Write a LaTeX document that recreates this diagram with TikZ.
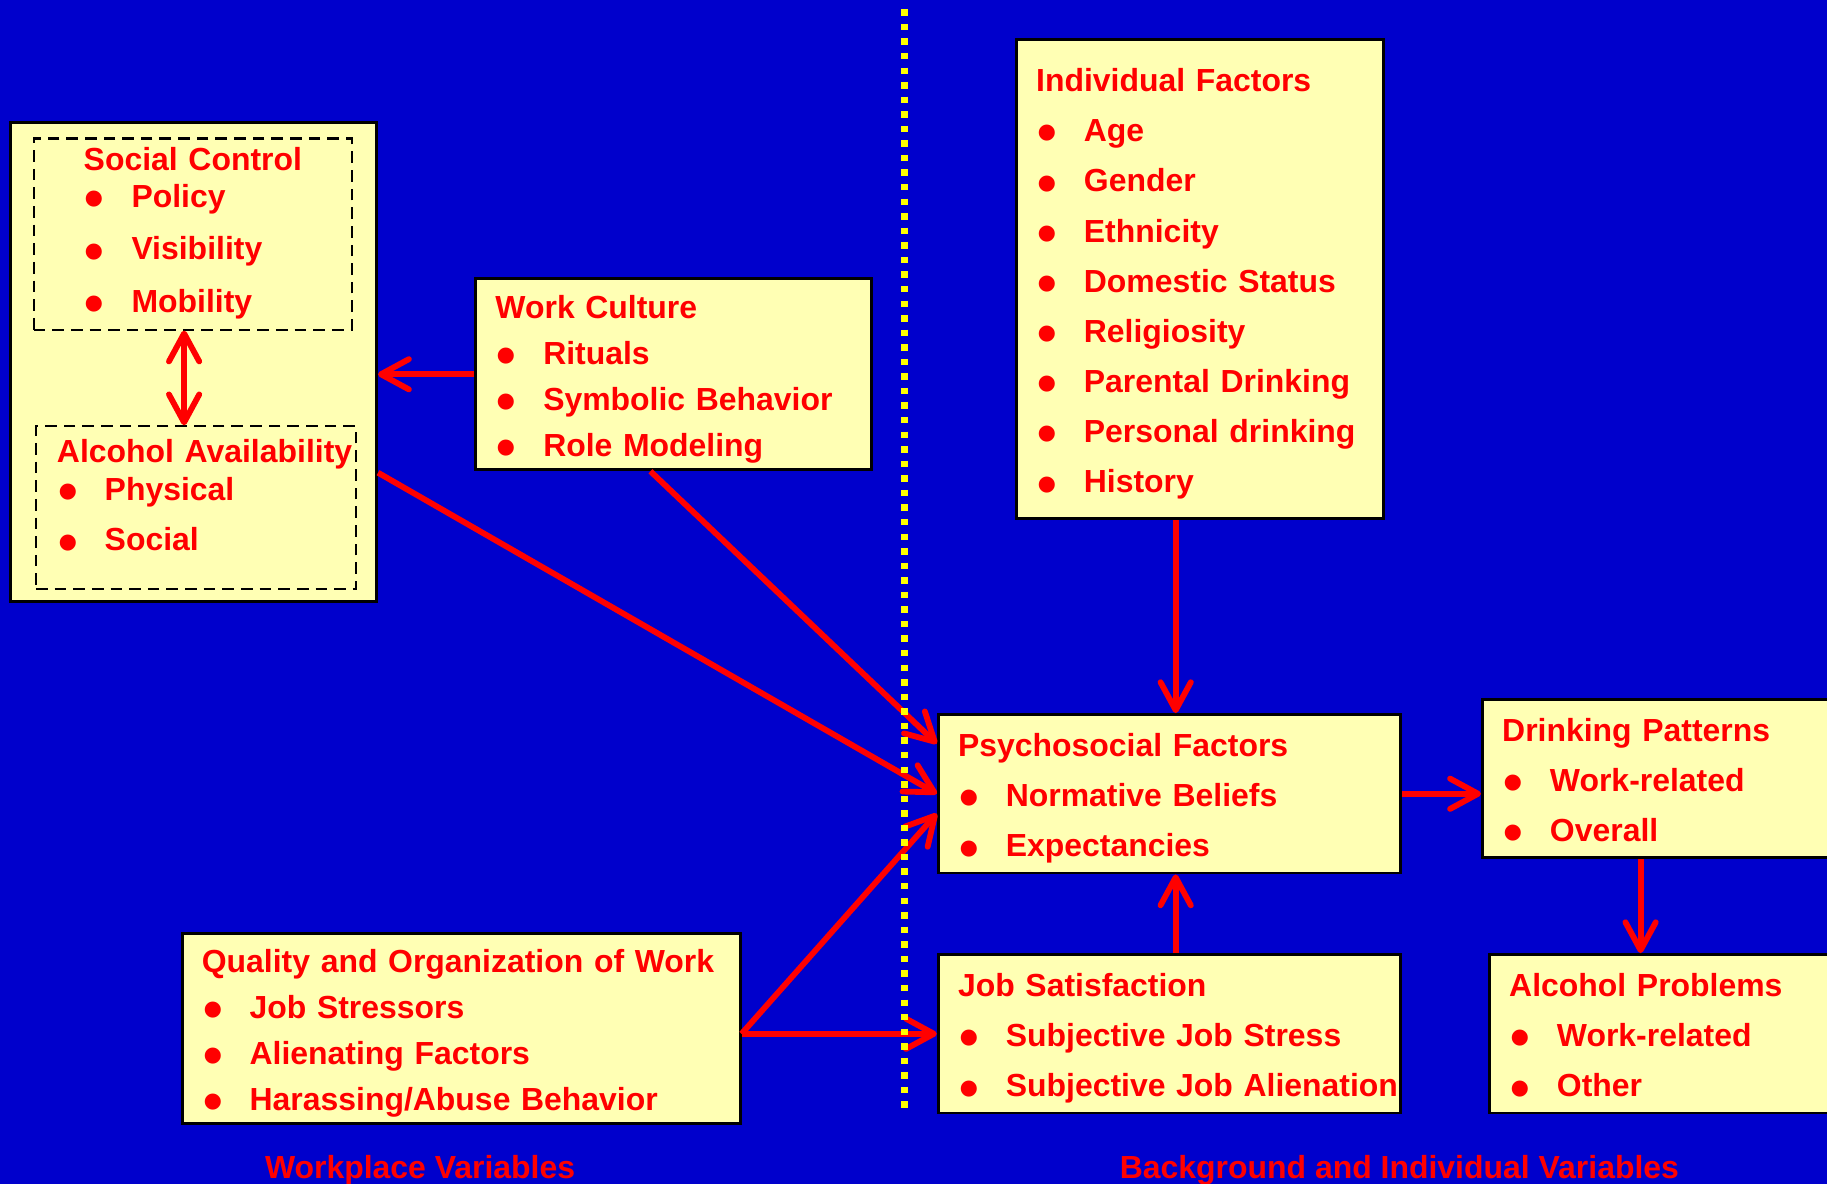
\documentclass[tikz,border=0pt]{standalone}
\usepackage{fontspec}
\setmainfont{Liberation Sans}
\usepackage{graphicx}
\usetikzlibrary{arrows.meta}

\definecolor{bgblue}{RGB}{0,0,204}
\definecolor{boxfill}{RGB}{255,255,180}
\definecolor{divline}{RGB}{255,255,0}

\newcommand{\bul}{\raisebox{-0.32em}{\scalebox{1.75}{\textbullet}}}
\newcommand{\ttl}[2][0.62cm]{\rule{0pt}{#1}\mbox{#2}}
\newcommand{\itm}[1]{\hspace*{0.02cm}\makebox[0.8cm][l]{\bul}\mbox{#1}\rule[-0.13cm]{0pt}{0.1cm}}

\tikzset{
panel/.style={ % yellow boxes
draw=black, line width=0.05cm,
fill=boxfill, text=red,
anchor=north west, align=left,
inner xsep=0.34cm, inner ysep=0pt,
font=\fontsize{15.6pt}{24.5pt}\selectfont\bfseries},
subpanel/.style={ % dashed boxes inside the workplace box
panel, line width=0.035cm,
dash pattern=on 0.2cm off 0.12cm},
link/.style={ % red arrows
draw=red, line width=0.1cm, ->},
>={Straight Barb[round,length=0.48cm,width=0.52cm]},
divider/.style={draw=divline, line width=0.115cm,
dash pattern=on 0.11cm off 0.14cm},
caption/.style={text=red, anchor=base,
font=\fontsize{15.6pt}{18pt}\selectfont\bfseries}
}

\begin{document}
\begin{tikzpicture}[x=0.02cm, y=-0.02cm]
\useasboundingbox (0,0) rectangle (1568,1016);
\clip (0,0) rectangle (1568,1016);
\fill[bgblue] (0,0) rectangle (1568,1016);

% workplace side
\node[panel, inner sep=0pt, minimum width=6.28cm, minimum height=8.22cm] (work) at (8,104) {};
\node[subpanel, text width=3.74cm, inner xsep=0.86cm, minimum height=3.28cm,
font=\fontsize{15.6pt}{25.6pt}\selectfont\bfseries] (control) at (28,118)
{\ttl[0.42cm]{Social Control}\\[-7.4pt] \itm{Policy}\\ \itm{Visibility}\\ \itm{Mobility}};
\node[subpanel, text width=4.78cm, inner xsep=0.36cm, minimum height=2.74cm] (avail) at (30,365)
{\ttl{Alcohol Availability}\\[-5.8pt] \itm{Physical}\\ \itm{Social}\par\vspace*{0.48cm}};
\node[panel, text width=6.12cm, minimum height=3.28cm,
font=\fontsize{15.6pt}{22.5pt}\selectfont\bfseries] (culture) at (407,238)
{\ttl{Work Culture}\\ \itm{Rituals}\\ \itm{Symbolic Behavior}\\ \itm{Role Modeling}};
\node[panel, text width=8.9cm, minimum height=3.26cm,
font=\fontsize{15.6pt}{22.5pt}\selectfont\bfseries] (quality) at (155,800)
{\ttl{Quality and Organization of Work}\\ \itm{Job Stressors}\\ \itm{Alienating Factors}\\ \itm{Harassing/Abuse Behavior}};

% individual side
\node[panel, text width=5.62cm, minimum height=8.22cm] (indiv) at (871,33)
{\ttl{Individual Factors}\\ \itm{Age}\\ \itm{Gender}\\ \itm{Ethnicity}\\ \itm{Domestic Status}\\
\itm{Religiosity}\\ \itm{Parental Drinking}\\ \itm{Personal drinking}\\ \itm{History}};
\node[panel, text width=7.26cm, minimum height=2.72cm] (psych) at (804,612)
{\ttl{Psychosocial Factors}\\ \itm{Normative Beliefs}\\ \itm{Expectancies}};
\node[panel, text width=7.26cm, minimum height=2.72cm] (satis) at (804,818)
{\ttl{Job Satisfaction}\\ \itm{Subjective Job Stress}\\ \itm{Subjective Job Alienation}};
\node[panel, text width=6.52cm, minimum height=2.72cm] (drink) at (1271,599)
{\ttl{Drinking Patterns}\\ \itm{Work-related}\\ \itm{Overall}};
\node[panel, text width=6.52cm, minimum height=2.72cm] (probs) at (1277,818)
{\ttl{Alcohol Problems}\\ \itm{Work-related}\\ \itm{Other}};

\coordinate (dbl) at (158,300);
\coordinate (col) at (1009,0);
\coordinate (col2) at (1408,0);

% arrows
\draw[link, <->] (control.south -| dbl) -- (avail.north -| dbl);
\draw[link] (culture.west) -- (culture.west -| work.east);
\draw[link] ([yshift=-1.9cm]work.east) -- (psych.west);
\draw[link] ([xshift=-0.4cm]culture.south) -- ([yshift=0.86cm]psych.west);
\draw[link] (quality.east |- satis.west) -- ([yshift=-0.34cm]psych.west);
\draw[link] (quality.east |- satis.west) -- (satis.west);
\draw[link] (indiv.south -| col) -- (psych.north -| col);
\draw[link] (satis.north -| col) -- (psych.south -| col);
\draw[link] (psych.east) -- (psych.east -| drink.west);
\draw[link] (drink.south -| col2) -- (probs.north -| col2);

\draw[divider] (776,8) -- (776,955);

\node[caption] (wplabel) at (360.5,1011) {Workplace Variables};
\node[caption] (bglabel) at (1201,1011) {Background and Individual Variables};
\end{tikzpicture}
\end{document}
